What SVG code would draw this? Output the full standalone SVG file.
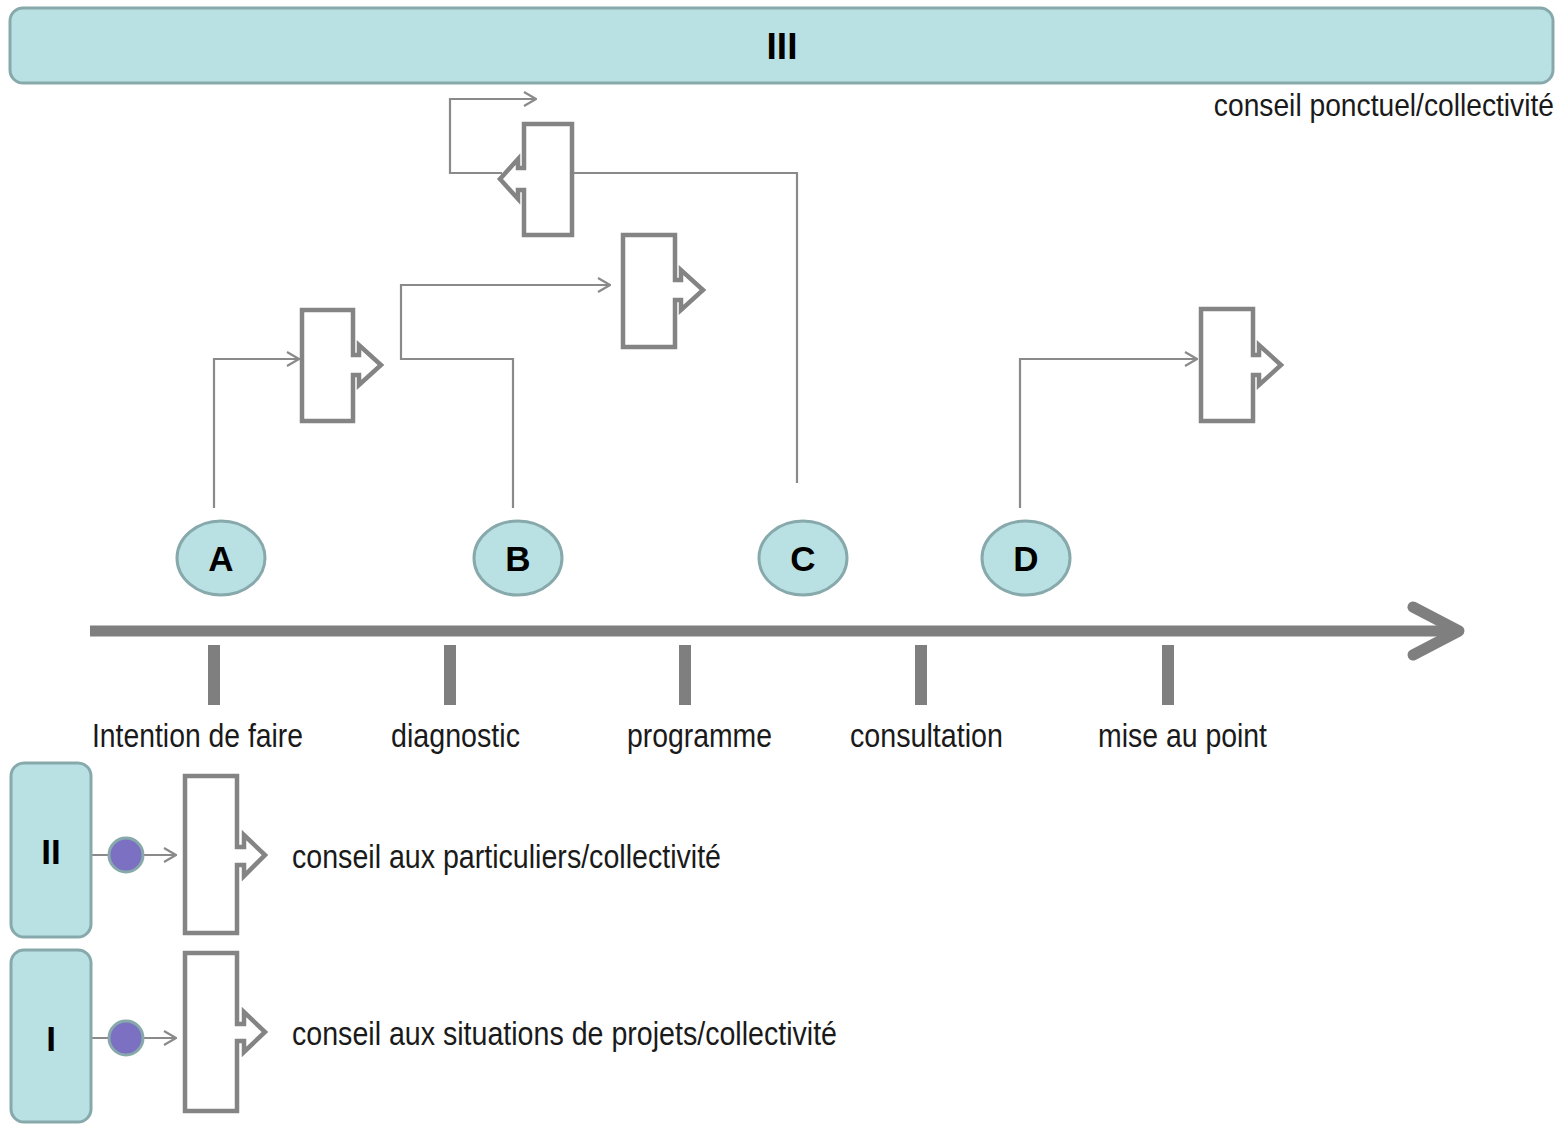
<svg xmlns="http://www.w3.org/2000/svg" width="1562" height="1124" viewBox="0 0 1562 1124">
<defs>
<style>
.box{fill:#b9e0e3;stroke:#87a9ab;stroke-width:3}
.proc{fill:#fff;stroke:#848484;stroke-width:4.5;stroke-linejoin:miter}
.con{fill:none;stroke:#8a8a8a;stroke-width:2.2}
.lbl{font-family:"Liberation Sans",Arial,sans-serif;font-size:33px;fill:#1a1a1a}
.big{font-family:"Liberation Sans",Arial,sans-serif;font-weight:bold;fill:#000}
.tick{fill:#7f7f7f}
</style>
<marker id="arr" viewBox="0 0 14 16" refX="13" refY="8" markerWidth="14" markerHeight="16" markerUnits="userSpaceOnUse" orient="auto">
<path d="M1,1 L13,8 L1,15" fill="none" stroke="#8a8a8a" stroke-width="2.2"/>
</marker>
</defs>

<g id="connectors">
<path class="con" d="M214 508 V359 H299" marker-end="url(#arr)"/>
<path class="con" d="M513 508 V359 H401 V285 H610" marker-end="url(#arr)"/>
<path class="con" d="M797 483 V173 H572"/>
<path class="con" d="M502 173 H450 V99 H536" marker-end="url(#arr)"/>
<path class="con" d="M1020 508 V359 H1197" marker-end="url(#arr)"/>
<path class="con" d="M91 855 H110 M142 855 H176" marker-end="url(#arr)"/>
<path class="con" d="M91 1038 H110 M142 1038 H176" marker-end="url(#arr)"/>
</g>

<g id="node-III">
<rect class="box" x="10" y="8" width="1543" height="75" rx="13"/>
<text class="big" x="782" y="59" font-size="37" text-anchor="middle">III</text>
</g>
<text class="lbl" x="0" y="0" text-anchor="end" transform="translate(1554,116) scale(0.91,1)" style="font-size:31px">conseil ponctuel/collectivité</text>

<g id="proc-A"><path class="proc" d="M302 310 H353 V355 H359 V345 L381 365 L359 385 V375 H353 V421 H302 Z"/></g>
<g id="proc-B"><path class="proc" d="M623 235 H675 V280 H681 V270 L703 290 L681 310 V300 H675 V347 H623 Z"/></g>
<g id="proc-C"><path class="proc" d="M572 124 H524 V168 H518 V159 L500 179 L518 199 V190 H524 V235 H572 Z"/></g>
<g id="proc-D"><path class="proc" d="M1201 309 H1253 V355 H1259 V345 L1281 365 L1259 385 V375 H1253 V421 H1201 Z"/></g>

<g id="node-A"><ellipse class="box" cx="221" cy="558" rx="44" ry="37"/><text class="big" x="221" y="571" font-size="35" text-anchor="middle">A</text></g>
<g id="node-B"><ellipse class="box" cx="518" cy="558" rx="44" ry="37"/><text class="big" x="518" y="571" font-size="35" text-anchor="middle">B</text></g>
<g id="node-C"><ellipse class="box" cx="803" cy="558" rx="44" ry="37"/><text class="big" x="803" y="571" font-size="35" text-anchor="middle">C</text></g>
<g id="node-D"><ellipse class="box" cx="1026" cy="558" rx="44" ry="37"/><text class="big" x="1026" y="571" font-size="35" text-anchor="middle">D</text></g>

<g id="timeline">
<line x1="90" y1="631" x2="1455" y2="631" stroke="#7f7f7f" stroke-width="11"/>
<path d="M1413 607 L1459 631 L1413 655" fill="none" stroke="#7f7f7f" stroke-width="11" stroke-linecap="round" stroke-linejoin="round"/>
<rect class="tick" x="208" y="645" width="12" height="60"/>
<rect class="tick" x="444" y="645" width="12" height="60"/>
<rect class="tick" x="679" y="645" width="12" height="60"/>
<rect class="tick" x="915" y="645" width="12" height="60"/>
<rect class="tick" x="1162" y="645" width="12" height="60"/>
</g>

<g id="phase-labels">
<text class="lbl" x="92" y="747" textLength="211" lengthAdjust="spacingAndGlyphs">Intention de faire</text>
<text class="lbl" x="391" y="747" textLength="129" lengthAdjust="spacingAndGlyphs">diagnostic</text>
<text class="lbl" x="627" y="747" textLength="145" lengthAdjust="spacingAndGlyphs">programme</text>
<text class="lbl" x="850" y="747" textLength="153" lengthAdjust="spacingAndGlyphs">consultation</text>
<text class="lbl" x="1098" y="747" textLength="169" lengthAdjust="spacingAndGlyphs">mise au point</text>
</g>

<g id="node-II">
<rect class="box" x="11" y="763" width="80" height="174" rx="13"/>
<text class="big" x="51" y="864" font-size="35" text-anchor="middle">II</text>
</g>
<g id="dot-II"><circle cx="126" cy="855" r="17" fill="#7b70c2" stroke="#87a9ab" stroke-width="3"/></g>
<g id="proc-II"><path class="proc" d="M185 776 H237 V847 H244 V835 L265 855 L244 876 V865 H237 V933 H185 Z"/></g>
<text class="lbl" x="292" y="868" textLength="429" lengthAdjust="spacingAndGlyphs">conseil aux particuliers/collectivité</text>

<g id="node-I">
<rect class="box" x="11" y="950" width="80" height="172" rx="13"/>
<text class="big" x="51" y="1051" font-size="35" text-anchor="middle">I</text>
</g>
<g id="dot-I"><circle cx="126" cy="1038" r="17" fill="#7b70c2" stroke="#87a9ab" stroke-width="3"/></g>
<g id="proc-I"><path class="proc" d="M185 953 H237 V1024 H244 V1012 L265 1032 L244 1052 V1041 H237 V1111 H185 Z"/></g>
<text class="lbl" x="292" y="1045" textLength="545" lengthAdjust="spacingAndGlyphs">conseil aux situations de projets/collectivité</text>
</svg>
